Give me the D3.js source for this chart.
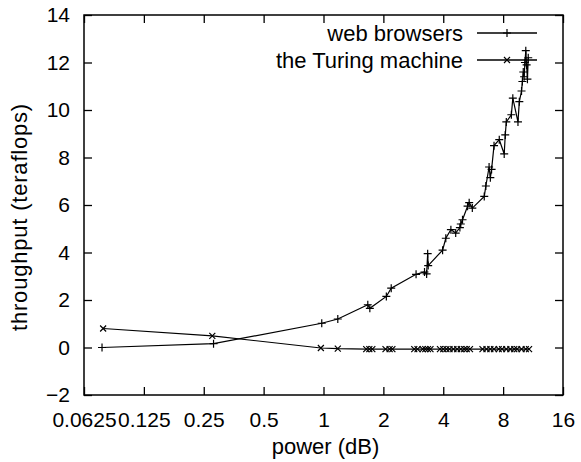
<!DOCTYPE html>
<html>
<head>
<meta charset="utf-8">
<script src="https://cdn.jsdelivr.net/npm/d3@7"></script>
<style>
  body { margin: 0; background: #fff; }
  text { font-family: "Liberation Sans", Arial, sans-serif; fill: #000; }
</style>
</head>
<body>
<div id="chart"></div>
<script>
// series data: [power (dB), throughput (teraflops)]
const webBrowsers = [
  [0.077, 0.0], [0.28, 0.16], [0.98, 1.02], [1.18, 1.2], [1.67, 1.8], [1.71, 1.65],
  [2.07, 2.15], [2.19, 2.5], [2.92, 3.08], [3.22, 3.18], [3.3, 3.1], [3.34, 3.95],
  [3.36, 3.45], [3.97, 4.1], [4.12, 4.6], [4.37, 4.96], [4.62, 4.82], [4.85, 5.05],
  [4.9, 5.2], [5.0, 5.38], [5.3, 5.95], [5.4, 6.1], [5.6, 5.87], [6.43, 6.36],
  [6.55, 6.8], [6.8, 7.6], [6.9, 7.15], [7.0, 7.5], [7.2, 8.5], [7.65, 8.75],
  [8.1, 8.15], [8.2, 8.95], [8.3, 9.5], [8.8, 9.8], [8.95, 10.5], [9.5, 9.5],
  [9.65, 10.35], [9.9, 10.8], [10.0, 11.2], [10.1, 11.6], [10.2, 11.4], [10.3, 12.0],
  [10.4, 12.5], [10.5, 11.9], [10.6, 11.3], [10.7, 12.2]
];
const turingMachine = [
  [0.078, 0.8], [0.276, 0.49], [0.97, -0.02], [1.18, -0.05], [1.64, -0.07], [1.7, -0.07],
  [1.76, -0.07], [2.05, -0.07], [2.15, -0.07], [2.22, -0.07], [2.86, -0.07], [2.97, -0.07],
  [3.15, -0.07], [3.25, -0.07], [3.35, -0.07], [3.45, -0.07], [3.85, -0.07], [4.0, -0.07],
  [4.15, -0.07], [4.3, -0.07], [4.5, -0.07], [4.7, -0.07], [4.9, -0.07], [5.1, -0.07],
  [5.25, -0.07], [5.45, -0.07], [6.3, -0.07], [6.6, -0.07], [6.9, -0.07], [7.2, -0.07],
  [7.6, -0.07], [7.9, -0.07], [8.3, -0.07], [8.7, -0.07], [9.1, -0.07], [9.4, -0.07],
  [9.9, -0.07], [10.4, -0.07], [10.8, -0.07]
];
const xTicks = [0.0625, 0.125, 0.25, 0.5, 1, 2, 4, 8, 16];
const yTicks = [-2, 0, 2, 4, 6, 8, 10, 12, 14];
const seriesNames = ["web browsers", "the Turing machine"];

const width = 581, height = 462;
const plotL = 84, plotR = 563, plotT = 15, plotB = 395;

const svg = d3.select("#chart").append("svg")
  .attr("width", width)
  .attr("height", height);

const x = d3.scaleLog().base(2).domain([0.0625, 16]).range([plotL, plotR]);
const y = d3.scaleLinear().domain([-2, 14]).range([plotB, plotT]);

// axes with inward ticks on all four sides
const fmt = d => String(d);
svg.append("g")
  .attr("transform", `translate(0,${plotB})`)
  .call(d3.axisBottom(x).tickValues(xTicks).tickFormat(fmt).tickSize(-8).tickPadding(17));
svg.append("g")
  .attr("transform", `translate(0,${plotT})`)
  .call(d3.axisTop(x).tickValues(xTicks).tickFormat("").tickSize(-8));
svg.append("g")
  .attr("transform", `translate(${plotL},0)`)
  .call(d3.axisLeft(y).tickValues(yTicks).tickSize(-8).tickPadding(14));
svg.append("g")
  .attr("transform", `translate(${plotR},0)`)
  .call(d3.axisRight(y).tickValues(yTicks).tickFormat("").tickSize(-8));

svg.selectAll(".domain").remove();
svg.selectAll(".tick line").attr("stroke", "#000").attr("stroke-width", 1.3);
svg.selectAll(".tick text").style("font-size", "21px").attr("fill", "#000");

svg.append("rect")
  .attr("x", plotL).attr("y", plotT)
  .attr("width", plotR - plotL).attr("height", plotB - plotT)
  .attr("fill", "none").attr("stroke", "#000").attr("stroke-width", 1.5);

// axis titles
svg.append("text")
  .attr("x", (plotL + plotR) / 2 + 2)
  .attr("y", 454)
  .attr("text-anchor", "middle")
  .style("font-size", "22px")
  .text("power (dB)");

svg.append("text")
  .attr("transform", "translate(27,217) rotate(-90)")
  .attr("text-anchor", "middle")
  .style("font-size", "22px")
  .style("letter-spacing", "0.8px")
  .text("throughput (teraflops)");

// lines and markers
const line = d3.line().x(d => x(d[0])).y(d => y(d[1]));
const plusPath = "M-4,0H4M0,-4V4";
const crossPath = "M-3,-3L3,3M-3,3L3,-3";

const series = [
  { name: seriesNames[0], data: webBrowsers, marker: plusPath },
  { name: seriesNames[1], data: turingMachine, marker: crossPath }
];

series.forEach((s, i) => {
  svg.append("path")
    .datum(s.data)
    .attr("d", line)
    .attr("fill", "none")
    .attr("stroke", "#000")
    .attr("stroke-width", 1.2);

  svg.selectAll(".m" + i)
    .data(s.data)
    .enter().append("path")
    .attr("class", "m" + i)
    .attr("transform", d => `translate(${x(d[0])},${y(d[1])})`)
    .attr("d", s.marker)
    .attr("stroke", "#000")
    .attr("stroke-width", 1.2)
    .attr("fill", "none");

  // legend
  const ly = 33 + i * 27;
  svg.append("text")
    .attr("x", 463)
    .attr("y", ly + 8)
    .attr("text-anchor", "end")
    .style("font-size", "22px")
    .text(s.name);
  svg.append("line")
    .attr("x1", 477).attr("x2", 537)
    .attr("y1", ly).attr("y2", ly)
    .attr("stroke", "#000").attr("stroke-width", 1.5);
  svg.append("path")
    .attr("transform", `translate(507,${ly})`)
    .attr("d", s.marker)
    .attr("stroke", "#000")
    .attr("stroke-width", 1.2)
    .attr("fill", "none");
});
</script>
</body>
</html>
